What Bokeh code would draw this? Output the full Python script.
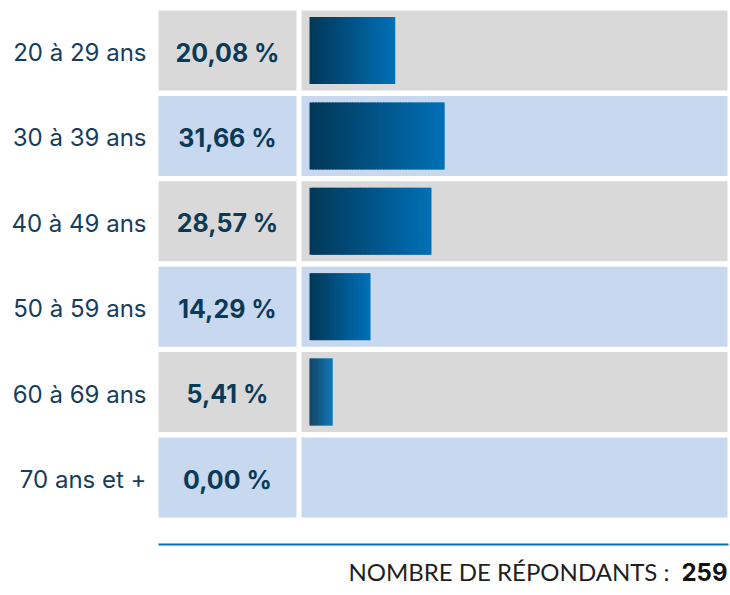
from bokeh.plotting import figure
from bokeh.models import Range1d
from bokeh.core.properties import value
from bokeh.embed import file_html
from bokeh.resources import INLINE

# ---- data ----
categories = ["20 à 29 ans", "30 à 39 ans", "40 à 49 ans", "50 à 59 ans", "60 à 69 ans", "70 ans et +"]
percents = [20.08, 31.66, 28.57, 14.29, 5.41, 0.00]
pct_labels = ["20,08 %", "31,66 %", "28,57 %", "14,29 %", "5,41 %", "0,00 %"]
footer_text = "NOMBRE DE RÉPONDANTS :"
footer_count = "259"

# ---- style ----
W, H = 730, 595
ROW_BG = ["#d9d9d9", "#c8d8ee"]
GRAD_L = (2, 56, 88)
GRAD_R = (0, 112, 182)
LABEL_COLOR = "#163d5c"
PCT_COLOR = "#0b3a59"
N_SLICES = 48

px_per_pct = 4.27
zero_px = 309.0
row_center_px = 50.0
row_pitch = 85.4

p = figure(width=W, height=H, output_backend="svg", toolbar_location=None,
           x_range=Range1d(0, W), y_range=Range1d(H, 0), min_border=0)
p.extra_x_ranges = {"pct": Range1d(-zero_px / px_per_pct, (W - zero_px) / px_per_pct)}
p.extra_y_ranges = {"row": Range1d((H - row_center_px) / row_pitch, -row_center_px / row_pitch)}
p.axis.visible = False
p.grid.visible = False
p.outline_line_color = None
p.background_fill_color = "white"
p.border_fill_color = "white"

n = len(categories)
idx = list(range(n))
bg_half = 0.4685
bar_half = 0.392

# row backgrounds
colors = [ROW_BG[i % 2] for i in idx]
p.quad(left=[158] * n, right=[296] * n, top=[i - bg_half for i in idx],
       bottom=[i + bg_half for i in idx], fill_color=colors, line_color=None,
       y_range_name="row")
p.quad(left=[301] * n, right=[727] * n, top=[i - bg_half for i in idx],
       bottom=[i + bg_half for i in idx], fill_color=colors, line_color=None,
       y_range_name="row")

# gradient bars
lefts, rights, tops, bottoms, fills = [], [], [], [], []
for i, v in enumerate(percents):
    if v <= 0:
        continue
    for j in range(N_SLICES):
        t = j / (N_SLICES - 1)
        c = tuple(int(round(GRAD_L[k] + (GRAD_R[k] - GRAD_L[k]) * t)) for k in range(3))
        lefts.append(v * j / N_SLICES)
        rights.append(min(v * (j + 1.6) / N_SLICES, v))
        tops.append(i - bar_half)
        bottoms.append(i + bar_half)
        fills.append("#%02x%02x%02x" % c)
p.quad(left=lefts, right=rights, top=tops, bottom=bottoms, fill_color=fills,
       line_color=None, x_range_name="pct", y_range_name="row")

text_dy = 2.0 / row_pitch

# category labels
p.text(x=[146] * n, y=[i + text_dy for i in idx], text=categories,
       text_font=value("Inter"), text_font_size="24px", text_color=LABEL_COLOR,
       text_align="right", text_baseline="middle", y_range_name="row")

# percent labels
p.text(x=[227] * n, y=[i + text_dy for i in idx], text=pct_labels,
       text_font=value("Inter"), text_font_size="25px", text_font_style="bold",
       text_color=PCT_COLOR, text_align="center", text_baseline="middle",
       y_range_name="row")

# bottom rule
p.line(x=[158, 728], y=[544, 544], line_color="#0a6eb4", line_width=2)

# footer
p.text(x=[669], y=[571], text=[footer_text], text_font=value("Lato"),
       text_font_size="24px", text_color="#1f1f1f", text_align="right",
       text_baseline="middle")
p.text(x=[727], y=[571], text=[footer_count], text_font=value("Inter"),
       text_font_size="24px", text_font_style="bold", text_color="#111111",
       text_align="right", text_baseline="middle")

open("out.html", "w").write(file_html(p, INLINE))
